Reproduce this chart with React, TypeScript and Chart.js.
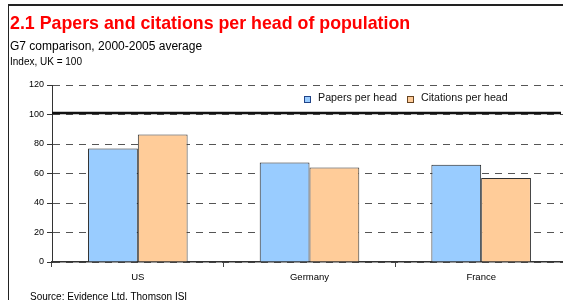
import React, { useEffect, useRef } from "react";
import { Chart, registerables } from "chart.js";

Chart.register(...registerables);

const categories = ["US", "Germany", "France"];
const papersPerHead = [77, 67.5, 66];
const citationsPerHead = [86.5, 64, 57];
const seriesLabels = ["Papers per head", "Citations per head"];
const yTicks = [0, 20, 40, 60, 80, 100, 120];
const ukIndexLine = 101;

const FONT = "'Liberation Sans', Arial, sans-serif";
const BLUE = "#99CCFF";
const ORANGE = "#FFCC99";

const refLinePlugin = {
  id: "refLine",
  beforeDatasetsDraw(chart: any) {
    const { ctx, chartArea, scales } = chart;
    const y = scales.y.getPixelForValue(ukIndexLine);
    ctx.save();
    ctx.strokeStyle = "#111";
    ctx.lineWidth = 2.5;
    ctx.beginPath();
    ctx.moveTo(chartArea.left, y);
    ctx.lineTo(chartArea.right - 6, y);
    ctx.stroke();
    ctx.restore();
  },
};

export default function App() {
  const ref = useRef<HTMLCanvasElement | null>(null);
  useEffect(() => {
    if (!ref.current) return;
    const chart = new Chart(ref.current, {
      type: "bar",
      data: {
        labels: categories,
        datasets: [
          {
            label: seriesLabels[0],
            data: papersPerHead,
            backgroundColor: BLUE,
            borderColor: "#222",
            borderWidth: 1,
            categoryPercentage: 0.58,
            barPercentage: 1,
          },
          {
            label: seriesLabels[1],
            data: citationsPerHead,
            backgroundColor: ORANGE,
            borderColor: "#333",
            borderWidth: 1,
            categoryPercentage: 0.58,
            barPercentage: 1,
          },
        ],
      },
      options: {
        animation: false,
        responsive: false,
        devicePixelRatio: 1,
        layout: { padding: { top: 85, left: 0, right: 0, bottom: 0 } },
        plugins: {
          legend: { display: false },
          title: { display: false },
          tooltip: { enabled: false },
        },
        scales: {
          x: {
            afterFit: (s: any) => {
              s.height = 38;
            },
            grid: {
              display: true,
              drawOnChartArea: false,
              tickLength: 5,
              color: "#444",
              tickBorderDash: [],
            },
            border: { display: true, color: "#333", width: 1.5 },
            ticks: {
              color: "#000",
              font: { family: FONT, size: 9.5 },
              padding: 5,
            },
          },
          y: {
            min: 0,
            max: 120,
            afterFit: (s: any) => {
              s.width = 52;
            },
            afterBuildTicks: (s: any) => {
              s.ticks = yTicks.map((v) => ({ value: v }));
            },
            grid: {
              color: "#555",
              lineWidth: 1,
              tickLength: 5,
              tickBorderDash: [],
              tickColor: "#333",
            },
            border: { display: true, color: "#333", width: 1, dash: [7, 6] },
            ticks: {
              color: "#000",
              font: { family: FONT, size: 9 },
              padding: 3,
            },
          },
        },
      },
      plugins: [refLinePlugin],
    });
    return () => chart.destroy();
  }, []);

  const legendItem = (label: string, color: string, border: string, left: number) => (
    <div
      style={{
        position: "absolute",
        left,
        top: 91,
        display: "flex",
        alignItems: "center",
        fontFamily: FONT,
        fontSize: 10.7,
        color: "#111",
        whiteSpace: "nowrap",
        lineHeight: "13px",
      }}
    >
      <span
        style={{
          display: "inline-block",
          width: 5,
          height: 5,
          background: color,
          border: `1px solid ${border}`,
          marginRight: 7,
          marginTop: 3,
        }}
      />
      {label}
    </div>
  );

  return (
    <div
      style={{
        position: "absolute",
        left: 0,
        top: 0,
        width: 563,
        height: 300,
        overflow: "hidden",
        background: "#fff",
      }}
    >
      <div
        style={{
          position: "absolute",
          left: 7.5,
          top: 4,
          width: 700,
          height: 400,
          borderTop: "2px solid #222",
          borderLeft: "1.5px solid #222",
        }}
      />
      <canvas
        ref={ref}
        width={567}
        height={300}
        style={{ position: "absolute", left: 0, top: 0, width: 567, height: 300 }}
      />
      <div
        style={{
          position: "absolute",
          left: 10,
          top: 14,
          fontFamily: FONT,
          fontWeight: "bold",
          fontSize: 17.8,
          lineHeight: "18px",
          color: "#FF0000",
          whiteSpace: "nowrap",
        }}
      >
        2.1 Papers and citations per head of population
      </div>
      <div
        style={{
          position: "absolute",
          left: 10,
          top: 40,
          fontFamily: FONT,
          fontSize: 12,
          lineHeight: "12px",
          color: "#000",
          whiteSpace: "nowrap",
        }}
      >
        G7 comparison, 2000-2005 average
      </div>
      <div
        style={{
          position: "absolute",
          left: 10,
          top: 57,
          fontFamily: FONT,
          fontSize: 10,
          lineHeight: "10px",
          color: "#000",
          whiteSpace: "nowrap",
        }}
      >
        Index, UK = 100
      </div>
      {legendItem(seriesLabels[0], BLUE, "#224488", 304)}
      {legendItem(seriesLabels[1], ORANGE, "#664422", 407)}
      <div
        style={{
          position: "absolute",
          left: 30,
          top: 291.5,
          fontFamily: FONT,
          fontSize: 10,
          lineHeight: "10px",
          color: "#000",
          whiteSpace: "nowrap",
        }}
      >
        Source: Evidence Ltd. Thomson ISI
      </div>
    </div>
  );
}
